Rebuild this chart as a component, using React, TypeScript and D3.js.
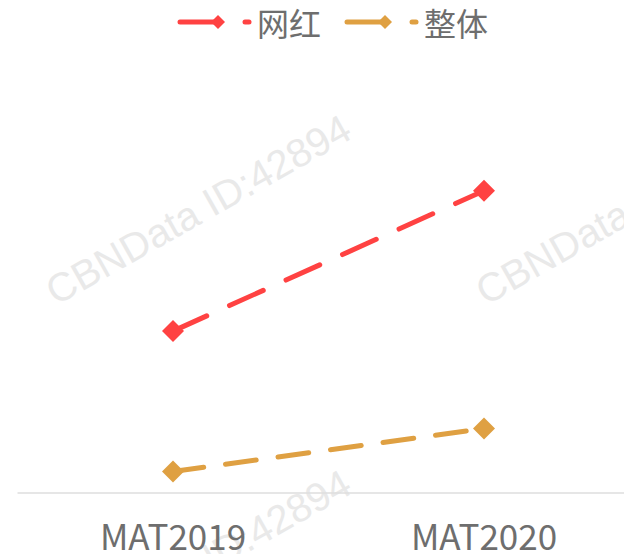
import React from "react";
import * as d3 from "d3";

const categories = ["MAT2019", "MAT2020"];
const seriesNames = ["网红", "整体"];
const wanghongValues = [9.8, 18.3];
const zhengtiValues = [1.3, 3.9];
const colors = ["#ff4242", "#dfa042"];
const watermarkText = "CBNData ID:42894";

const W = 624;
const H = 554;
const FONT = "'Noto Sans CJK SC', 'Noto Sans', sans-serif";

export default function App() {
  const x = d3.scaleBand<string>().domain(categories).range([17.5, 639.5]);
  const cx = (c: string) => (x(c) as number) + x.bandwidth() / 2;
  const y = d3.scaleLinear().domain([0, 25]).range([493, 80]);
  const series = [
    { name: seriesNames[0], values: wanghongValues, color: colors[0], dash: "37 25" },
    { name: seriesNames[1], values: zhengtiValues, color: colors[1], dash: "31 22" },
  ];
  const line = d3
    .line<number>()
    .x((_, i) => cx(categories[i]))
    .y((v) => y(v));
  const diamondPath = (size: number) =>
    `M0,${-size / 2}L${size / 2},0L0,${size / 2}L${-size / 2},0Z`;

  const legendX = [180, 347];
  const marks = [
    { x: 56, y: 306 },
    { x: 486, y: 306 },
    { x: 56, y: 661 },
    { x: 486, y: 661 },
  ];

  return (
    <svg
      width={W}
      height={H}
      style={{ position: "absolute", left: 0, top: 0, background: "#fff" }}
      fontFamily={FONT}
    >
      {marks.map((m, i) => (
        <text
          key={i}
          x={m.x}
          y={m.y}
          fontSize={40}
          fill="#e9e9e9"
          fontFamily="'Liberation Sans', Arial, sans-serif"
          transform={`rotate(-29.5 ${m.x} ${m.y})`}
        >
          {watermarkText}
        </text>
      ))}
      <line x1={17.5} x2={W} y1={493} y2={493} stroke="#dedede" strokeWidth={1.5} />
      {categories.map((c) => (
        <text
          key={c}
          x={cx(c)}
          y={550}
          textAnchor="middle"
          fontSize={35}
          fill="#6e6e6e"
        >
          {c}
        </text>
      ))}
      {series.map((s) => (
        <g key={s.name}>
          <path
            d={line(s.values) || ""}
            fill="none"
            stroke={s.color}
            strokeWidth={5}
            strokeLinecap="round"
            strokeDasharray={s.dash}
          />
          {s.values.map((v, i) => (
            <path
              key={i}
              d={diamondPath(22)}
              transform={`translate(${cx(categories[i])},${y(v)})`}
              fill={s.color}
            />
          ))}
        </g>
      ))}
      {series.map((s, i) => {
        const lx = legendX[i];
        return (
          <g key={"lg" + s.name}>
            <line x1={lx} x2={lx + 36} y1={22} y2={22} stroke={s.color} strokeWidth={5} strokeLinecap="round" />
            <path d={diamondPath(14)} transform={`translate(${lx + 38},22)`} fill={s.color} />
            <line x1={lx + 65} x2={lx + 69} y1={22} y2={22} stroke={s.color} strokeWidth={5} strokeLinecap="round" />
            <text x={lx + 77} y={22} dominantBaseline="central" fontSize={32} fill="#6e6e6e">
              {s.name}
            </text>
          </g>
        );
      })}
    </svg>
  );
}
